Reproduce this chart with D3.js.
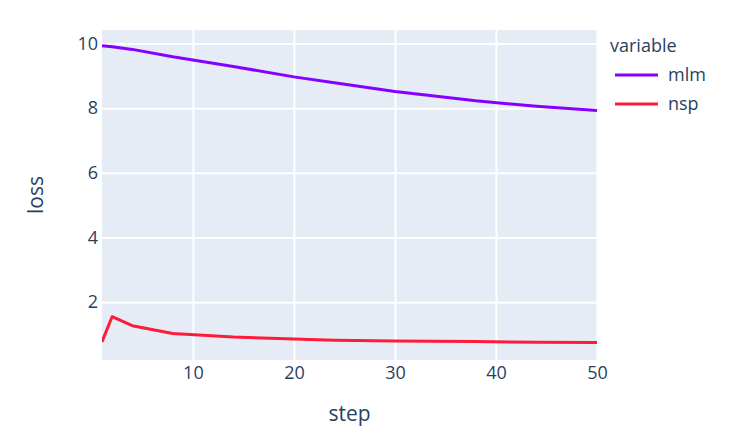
<!DOCTYPE html>
<html>
<head>
<meta charset="utf-8">
<script src="https://cdn.jsdelivr.net/npm/d3@7"></script>
<style>
  body { margin: 0; background: #fff; }
  text { font-family: "Open Sans", sans-serif; fill: #2a3f5f; }
</style>
</head>
<body>
<svg id="chart" width="731" height="442"></svg>
<script>
// data
var steps = [1, 2, 4, 8, 14, 20, 24, 30, 38, 44, 50];
var mlm = [9.93, 9.90, 9.82, 9.59, 9.29, 8.97, 8.79, 8.52, 8.23, 8.06, 7.93];
var nsp = [0.77, 1.55, 1.27, 1.03, 0.92, 0.86, 0.82, 0.80, 0.78, 0.76, 0.75];
var seriesNames = ["mlm", "nsp"];
var seriesColors = ["#8700ff", "#ff1a3a"];
var xTicks = [10, 20, 30, 40, 50];
var yTicks = [2, 4, 6, 8, 10];

var svg = d3.select("#chart");
var plotL = 102, plotR = 597, plotT = 30, plotB = 360;

var x = d3.scaleLinear().domain([1, 50]).range([plotL, plotR]);
var y = d3.scaleLinear().domain([0.21, 10.42]).range([plotB, plotT]);

// plot background
svg.append("rect")
  .attr("x", plotL).attr("y", plotT)
  .attr("width", plotR - plotL).attr("height", plotB - plotT)
  .attr("fill", "#e5ecf6");

// grid + tick labels
var xAxis = d3.axisBottom(x).tickValues(xTicks).tickSize(-(plotB - plotT)).tickPadding(6);
var gx = svg.append("g").attr("transform", "translate(0," + plotB + ")").call(xAxis);
gx.select(".domain").remove();
gx.selectAll(".tick line").attr("stroke", "#fff").attr("stroke-width", 2);
gx.selectAll(".tick text").style("font-size", "18px").style("font-family", "'Open Sans', sans-serif").attr("fill", "#2a3f5f");

var yAxis = d3.axisLeft(y).tickValues(yTicks).tickSize(-(plotR - plotL)).tickPadding(4);
var gy = svg.append("g").attr("transform", "translate(" + plotL + ",0)").call(yAxis);
gy.select(".domain").remove();
gy.selectAll(".tick line").attr("stroke", "#fff").attr("stroke-width", 2);
gy.selectAll(".tick text").style("font-size", "18px").style("font-family", "'Open Sans', sans-serif").attr("fill", "#2a3f5f");

// lines
svg.append("clipPath").attr("id", "plotclip")
  .append("rect").attr("x", plotL).attr("y", plotT)
  .attr("width", plotR - plotL).attr("height", plotB - plotT);

var line = d3.line()
  .x(function(d) { return x(d[0]); })
  .y(function(d) { return y(d[1]); });

[mlm, nsp].forEach(function(vals, i) {
  svg.append("path")
    .datum(steps.map(function(s, j) { return [s, vals[j]]; }))
    .attr("clip-path", "url(#plotclip)")
    .attr("fill", "none")
    .attr("stroke", seriesColors[i])
    .attr("stroke-width", 3)
    .attr("stroke-linejoin", "round")
    .attr("d", line);
});

// axis titles
svg.append("text")
  .attr("x", (plotL + plotR) / 2).attr("y", 421)
  .attr("text-anchor", "middle")
  .style("font-size", "21px")
  .text("step");

svg.append("text")
  .attr("transform", "translate(43," + ((plotT + plotB) / 2) + ") rotate(-90)")
  .attr("text-anchor", "middle")
  .style("font-size", "21px")
  .text("loss");

// legend
var legend = svg.append("g");
legend.append("text")
  .attr("x", 610).attr("y", 52)
  .style("font-size", "18px")
  .text("variable");

seriesNames.forEach(function(name, i) {
  var ly = 75 + i * 29;
  legend.append("line")
    .attr("x1", 615).attr("x2", 658)
    .attr("y1", ly).attr("y2", ly)
    .attr("stroke", seriesColors[i])
    .attr("stroke-width", 3);
  legend.append("text")
    .attr("x", 668).attr("y", ly + 6)
    .style("font-size", "18px")
    .text(name);
});
</script>
</body>
</html>
